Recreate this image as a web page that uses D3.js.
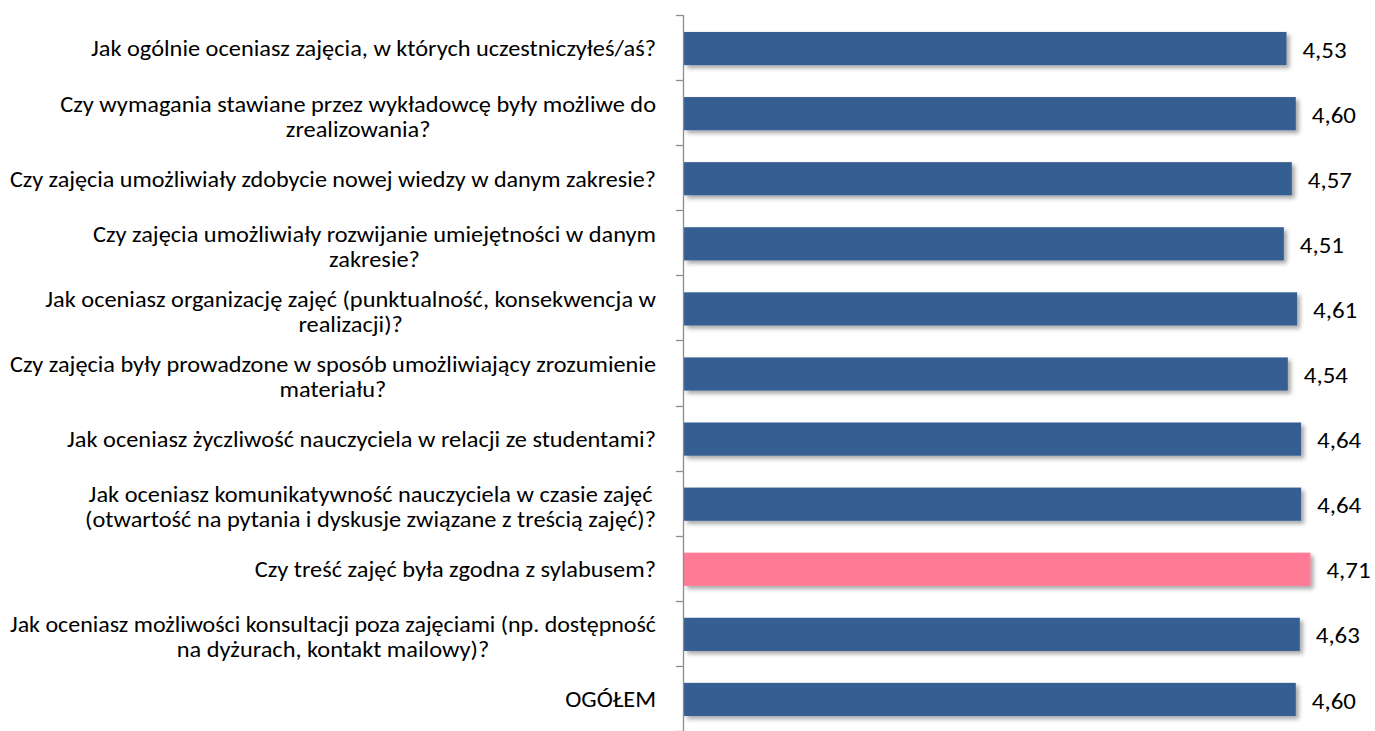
<!DOCTYPE html>
<html>
<head>
<meta charset="utf-8">
<script src="https://cdn.jsdelivr.net/npm/d3@7/dist/d3.min.js"></script>
<style>
  html, body { margin: 0; padding: 0; background: #fff; }
  svg { display: block; }
  text { font-family: Carlito, "Liberation Sans Narrow", "Open Sans", sans-serif; fill: #000; }
</style>
</head>
<body>
<svg id="chart" width="1375" height="731"></svg>
<script>
// ---- data ----
const categories = [
  ["Jak ogólnie oceniasz zajęcia, w których uczestniczyłeś/aś?"],
  ["Czy wymagania stawiane przez wykładowcę były możliwe do", "zrealizowania?"],
  ["Czy zajęcia umożliwiały zdobycie nowej wiedzy w danym zakresie?"],
  ["Czy zajęcia umożliwiały rozwijanie umiejętności w danym", "zakresie?"],
  ["Jak oceniasz organizację zajęć (punktualność, konsekwencja w", "realizacji)?"],
  ["Czy zajęcia były prowadzone w sposób umożliwiający zrozumienie ", "materiału?"],
  ["Jak oceniasz życzliwość nauczyciela w relacji ze studentami?"],
  ["Jak oceniasz komunikatywność nauczyciela w czasie zajęć", "(otwartość na pytania i dyskusje związane z treścią zajęć)?"],
  ["Czy treść zajęć była zgodna z sylabusem?"],
  ["Jak oceniasz możliwości konsultacji poza zajęciami (np. dostępność", "na dyżurach, kontakt mailowy)?"],
  ["OGÓŁEM"]
];
const values = [4.53, 4.60, 4.57, 4.51, 4.61, 4.54, 4.64, 4.64, 4.71, 4.63, 4.60];
const highlighted = [false, false, false, false, false, false, false, false, true, false, false];
const axisDomain = [0, 5];

// ---- layout ----
const svg = d3.select("#chart");
const axisX = 683;
const plotTop = 15, plotBottom = 731;
const ids = categories.map((d, i) => i);

const x = d3.scaleLinear().domain(axisDomain).range([axisX + 1, axisX + 1 + 665]);
const y = d3.scaleBand().domain(ids).range([plotTop, plotBottom]).paddingInner(0.49).paddingOuter(0.245);
const step = y.step();

const defs = svg.append("defs");
const f = defs.append("filter").attr("id", "shadow").attr("x", "-5%").attr("y", "-30%").attr("width", "115%").attr("height", "180%");
f.append("feDropShadow").attr("dx", 3).attr("dy", 3).attr("stdDeviation", 2.2)
  .attr("flood-color", "#000").attr("flood-opacity", 0.35);

// bars
svg.append("g").selectAll("rect").data(ids).join("rect")
  .attr("x", x(0))
  .attr("y", i => y(i) + 1)
  .attr("width", i => x(values[i]) - x(0))
  .attr("height", y.bandwidth())
  .attr("fill", i => highlighted[i] ? "#FF7A94" : "#365F92")
  .attr("filter", "url(#shadow)");

// axis line and ticks at category boundaries
const boundaries = ids.map(i => y(i) - y.paddingInner() * step / 2).concat([plotBottom]);
const axisG = svg.append("g");
axisG.append("line").attr("x1", axisX + 0.5).attr("x2", axisX + 0.5).attr("y1", plotTop).attr("y2", plotBottom)
  .attr("stroke", "#8C8C8C").attr("stroke-width", 1.3);
axisG.selectAll("line.tick").data(boundaries).join("line").attr("class", "tick")
  .attr("x1", axisX - 7).attr("x2", axisX + 0.5)
  .attr("y1", d => Math.round(d) + 0.5).attr("y2", d => Math.round(d) + 0.5)
  .attr("stroke", "#8C8C8C").attr("stroke-width", 1.3);

// category labels
const labelFont = 22.5;
const lineH = 25;
const labelRight = 656;
const maxLineW = 646;
const labelG = svg.append("g").style("font-size", labelFont + "px");

// measure two reference lines to determine the horizontal stretch of the original picture
function measure(s) {
  const p = labelG.append("text").text(s);
  const w = p.node().getComputedTextLength();
  p.remove();
  return w;
}
const stretch = (577 + 640) / (measure(categories[0][0]) + measure(categories[2][0]));

ids.forEach(i => {
  const lines = categories[i];
  const cy = y(i) + y.bandwidth() / 2 + 1;
  const n = lines.length;
  const g = labelG.append("g");
  const texts = lines.map((ln, k) => {
    const t = g.append("text").text(ln)
      .attr("y", cy - (n - 1) * lineH / 2 + k * lineH + (n > 1 ? 2.5 : 0))
      .attr("dy", "0.35em");
    const w = Math.min(maxLineW, t.node().getComputedTextLength() * stretch);
    t.attr("textLength", w).attr("lengthAdjust", "spacingAndGlyphs");
    return { t, w };
  });
  const blockW = d3.max(texts, d => d.w);
  const cx = labelRight - blockW / 2;
  texts.forEach(d => d.t.attr("x", cx).attr("text-anchor", "middle"));
});

// value labels
const valFont = 23;
const valG = svg.append("g").style("font-size", valFont + "px");
const fmt = v => v.toFixed(2).replace(".", ",");
ids.forEach(i => {
  const t = valG.append("text")
    .attr("x", x(values[i]) + 16)
    .attr("y", y(i) + y.bandwidth() / 2 + 2)
    .attr("dy", "0.35em")
    .text(fmt(values[i]));
  const w = t.node().getComputedTextLength() * stretch;
  t.attr("textLength", w).attr("lengthAdjust", "spacingAndGlyphs");
});
</script>
</body>
</html>
